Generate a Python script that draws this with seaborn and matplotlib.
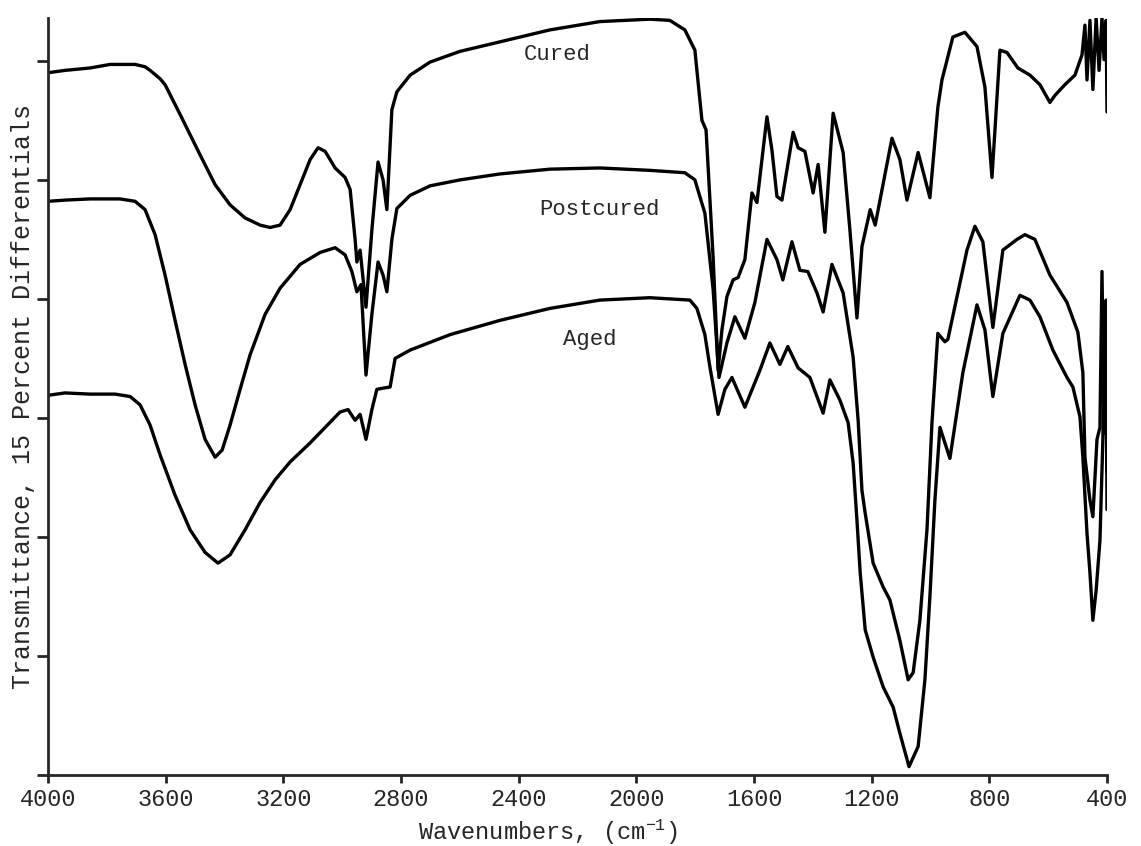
import numpy as np
import pandas as pd
import matplotlib
matplotlib.use("Agg")
import matplotlib.pyplot as plt
import seaborn as sns

# wavenumber (cm-1) / transmittance in tick divisions
cured_wn = [4000, 3942, 3857, 3789, 3704, 3670, 3653, 3619, 3602, 3551, 3483, 3432,
            3381, 3330, 3279, 3245, 3211, 3177, 3143, 3109, 3082, 3058, 3024, 2990,
            2973, 2956, 2950, 2939, 2919, 2899, 2878, 2861, 2848, 2831, 2814, 2769,
            2701, 2599, 2463, 2294, 2124, 1954, 1886, 1835, 1801, 1777, 1763, 1739,
            1722, 1709, 1692, 1671, 1654, 1631, 1607, 1590, 1556, 1539, 1522, 1505,
            1467, 1450, 1427, 1399, 1382, 1359, 1331, 1297, 1274, 1250, 1233, 1205,
            1188, 1131, 1104, 1080, 1042, 1002, 975, 961, 924, 883, 842, 815, 791,
            764, 740, 703, 662, 628, 594, 577, 543, 509, 485, 475, 468, 458, 448,
            437, 427, 417, 410, 403, 400]
cured_t = [5.90, 5.92, 5.94, 5.97, 5.97, 5.95, 5.92, 5.85, 5.80, 5.55, 5.21, 4.96,
           4.79, 4.68, 4.62, 4.60, 4.62, 4.75, 4.96, 5.17, 5.27, 5.24, 5.10, 5.02,
           4.92, 4.50, 4.31, 4.41, 3.93, 4.58, 5.15, 5.00, 4.75, 5.59, 5.74, 5.88,
           5.99, 6.08, 6.16, 6.26, 6.33, 6.35, 6.34, 6.26, 6.09, 5.50, 5.42, 4.35,
           3.40, 3.74, 4.02, 4.16, 4.18, 4.33, 4.89, 4.81, 5.53, 5.25, 4.86, 4.83,
           5.40, 5.27, 5.24, 4.89, 5.13, 4.56, 5.56, 5.23, 4.58, 3.84, 4.44, 4.75,
           4.62, 5.35, 5.17, 4.83, 5.23, 4.85, 5.61, 5.84, 6.20, 6.24, 6.12, 5.78,
           5.02, 6.09, 6.07, 5.94, 5.88, 5.80, 5.65, 5.71, 5.80, 5.88, 6.05, 6.30,
           5.84, 6.34, 5.76, 6.36, 5.92, 6.36, 6.01, 6.34, 5.57]

post_wn = [4000, 3942, 3857, 3755, 3704, 3670, 3636, 3602, 3568, 3534, 3500, 3466,
           3432, 3408, 3381, 3347, 3313, 3262, 3211, 3143, 3075, 3024, 2990, 2967,
           2950, 2936, 2919, 2899, 2878, 2861, 2848, 2831, 2814, 2769, 2701, 2599,
           2463, 2294, 2124, 1954, 1835, 1801, 1767, 1739, 1719, 1692, 1665, 1631,
           1597, 1556, 1522, 1502, 1471, 1444, 1417, 1386, 1365, 1335, 1297, 1263,
           1246, 1233, 1222, 1195, 1161, 1138, 1104, 1076, 1059, 1036, 1012, 995,
           975, 951, 941, 876, 849, 822, 788, 754, 706, 679, 645, 594, 536, 499,
           482, 475, 458, 448, 434, 424, 417, 410, 403, 400]
post_t = [4.82, 4.83, 4.84, 4.84, 4.82, 4.75, 4.54, 4.20, 3.82, 3.45, 3.11, 2.82,
          2.67, 2.73, 2.94, 3.24, 3.53, 3.87, 4.09, 4.29, 4.39, 4.43, 4.37, 4.23,
          4.06, 4.12, 3.36, 3.87, 4.31, 4.20, 4.06, 4.50, 4.76, 4.87, 4.95, 5.00,
          5.05, 5.09, 5.10, 5.08, 5.06, 5.00, 4.72, 4.08, 3.34, 3.63, 3.85, 3.67,
          3.97, 4.50, 4.33, 4.16, 4.48, 4.24, 4.23, 4.05, 3.89, 4.29, 4.05, 3.51,
          2.98, 2.39, 2.20, 1.78, 1.58, 1.47, 1.13, 0.80, 0.86, 1.30, 2.06, 2.96,
          3.71, 3.64, 3.66, 4.41, 4.61, 4.48, 3.76, 4.41, 4.50, 4.54, 4.50, 4.20,
          3.97, 3.72, 3.38, 2.67, 2.31, 2.17, 2.82, 2.92, 4.23, 2.87, 3.99, 2.23]

aged_wn = [4000, 3942, 3857, 3772, 3721, 3687, 3653, 3619, 3568, 3517, 3466, 3422,
           3381, 3330, 3279, 3228, 3177, 3109, 3058, 3007, 2980, 2956, 2939, 2919,
           2899, 2882, 2861, 2837, 2820, 2769, 2633, 2463, 2294, 2124, 1954, 1818,
           1794, 1767, 1750, 1722, 1699, 1675, 1631, 1580, 1546, 1512, 1485, 1450,
           1410, 1365, 1342, 1308, 1280, 1263, 1250, 1239, 1222, 1195, 1161, 1127,
           1104, 1073, 1042, 1019, 1002, 985, 968, 934, 890, 842, 815, 788, 754,
           696, 662, 628, 584, 536, 516, 492, 482, 468, 458, 448, 437, 424, 414,
           407, 400]
aged_t = [3.19, 3.21, 3.20, 3.20, 3.18, 3.11, 2.94, 2.69, 2.35, 2.06, 1.87, 1.78,
          1.85, 2.06, 2.29, 2.48, 2.63, 2.79, 2.92, 3.05, 3.07, 2.98, 3.03, 2.82,
          3.07, 3.24, 3.25, 3.26, 3.50, 3.57, 3.70, 3.82, 3.92, 3.99, 4.01, 3.99,
          3.92, 3.70, 3.43, 3.03, 3.24, 3.34, 3.09, 3.40, 3.63, 3.45, 3.60, 3.42,
          3.34, 3.04, 3.32, 3.15, 2.96, 2.62, 2.14, 1.70, 1.22, 0.99, 0.74, 0.57,
          0.35, 0.07, 0.24, 0.80, 1.50, 2.31, 2.92, 2.66, 3.38, 3.95, 3.74, 3.18,
          3.71, 4.03, 3.99, 3.85, 3.57, 3.34, 3.26, 3.01, 2.67, 2.03, 1.70, 1.30,
          1.55, 1.97, 2.82, 3.93, 2.54]

curve_names = ["Cured", "Postcured", "Aged"]
label_wn = [2270, 2124, 2158]
label_t = [6.05, 4.75, 3.66]

x_ticks = [4000, 3600, 3200, 2800, 2400, 2000, 1600, 1200, 800, 400]
y_ticks = [0, 1, 2, 3, 4, 5, 6]

sns.set_style("ticks")
plt.rcParams.update({
    "font.family": ["Liberation Mono", "DejaVu Sans Mono"],
    "mathtext.fontset": "custom",
    "mathtext.rm": "Liberation Mono",
    "mathtext.it": "Liberation Mono",
    "axes.linewidth": 2.0,
})

frames = []
for name, wn, t in [("Cured", cured_wn, cured_t),
                    ("Postcured", post_wn, post_t),
                    ("Aged", aged_wn, aged_t)]:
    frames.append(pd.DataFrame({"wn": wn, "t": t, "sample": name}))
df = pd.concat(frames, ignore_index=True)

fig = plt.figure(figsize=(11.41, 8.46), dpi=100)
ax = fig.add_axes([48 / 1141, 1 - 775 / 846, 1059 / 1141, 757 / 846])

for name in curve_names:
    sub = df[df["sample"] == name]
    sns.lineplot(data=sub, x="wn", y="t", ax=ax, color="black", linewidth=2.4,
                 estimator=None, sort=False, legend=False,
                 solid_joinstyle="round", solid_capstyle="round")

for name, x, y in zip(curve_names, label_wn, label_t):
    ax.text(x, y, name, ha="center", va="center", fontsize=16)

ax.set_xlim(4000, 400)
ax.set_ylim(0, 6.36)
ax.set_xticks(x_ticks)
ax.set_xticklabels([str(v) for v in x_ticks], fontsize=17)
ax.set_yticks(y_ticks)
ax.set_yticklabels([])
ax.tick_params(axis="x", direction="out", length=6, width=2, pad=3)
ax.tick_params(axis="y", direction="out", length=8, width=2)
sns.despine(ax=ax)

ax.set_xlabel("Wavenumbers, (cm$^{-1}$)", fontsize=17)
ax.xaxis.set_label_coords(0.472, -0.056)
ax.set_ylabel("Transmittance, 15 Percent Differentials", fontsize=18)
ax.yaxis.set_label_coords(-0.012, 0.5)

fig.savefig("out.png", dpi=100)
